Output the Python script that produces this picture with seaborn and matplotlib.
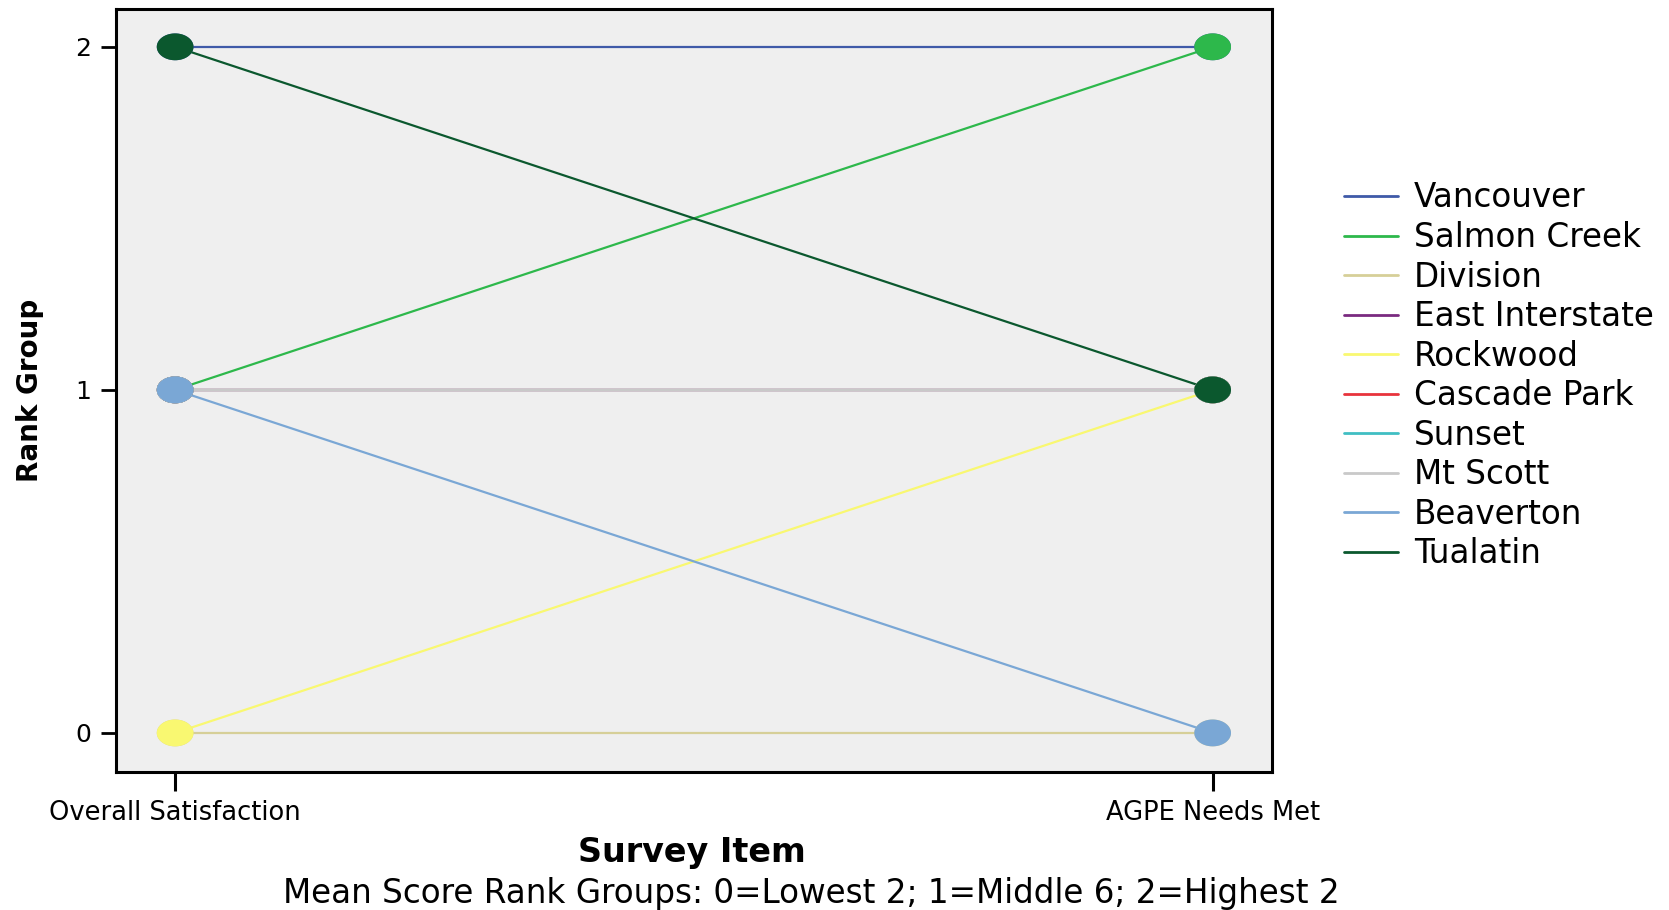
import numpy as np
import pandas as pd
import matplotlib
matplotlib.use("Agg")
import matplotlib.pyplot as plt
from matplotlib.path import Path
from matplotlib.markers import MarkerStyle
from matplotlib.lines import Line2D
import seaborn as sns

# ---- data ----
items = ["Overall Satisfaction", "AGPE Needs Met"]
sites = ["Vancouver", "Salmon Creek", "Division", "East Interstate", "Rockwood",
         "Cascade Park", "Sunset", "Mt Scott", "Beaverton", "Tualatin"]
overall_rank = [2, 1, 0, 1, 0, 1, 1, 1, 1, 2]
agpe_rank = [2, 2, 0, 1, 1, 1, 1, 1, 0, 1]
colors = ["#3f5aa8", "#2db84b", "#d6cf98", "#7a2a80", "#f9f871",
          "#e8333c", "#40bec3", "#c9c9c9", "#7aa7d5", "#0b582e"]
y_ticks = [0, 1, 2]

rows = []
for s, a, b in zip(sites, overall_rank, agpe_rank):
    rows.append({"site": s, "item": 0, "rank": a})
    rows.append({"site": s, "item": 1, "rank": b})
df = pd.DataFrame(rows)
palette = dict(zip(sites, colors))

sns.set_theme(style="white")
plt.rcParams["font.family"] = ["DejaVu Sans"]
plt.rcParams["text.color"] = "black"
plt.rcParams["axes.labelcolor"] = "black"
plt.rcParams["xtick.color"] = "black"
plt.rcParams["ytick.color"] = "black"

fig = plt.figure(figsize=(16.69, 9.10), dpi=100)
ax = fig.add_axes([0.0695, 0.1516, 0.6925, 0.8384])
ax.set_facecolor("#efefef")

sns.lineplot(data=df, x="item", y="rank", hue="site", hue_order=sites,
             palette=palette, linewidth=1.6, legend=False, ax=ax,
             estimator=None, sort=False)

theta = np.linspace(0, 2 * np.pi, 60)
verts = np.column_stack([np.cos(theta), 0.73 * np.sin(theta)])
ellipse = MarkerStyle(Path(verts, closed=True))
order = {s: i for i, s in enumerate(sites)}
df_pts = df.sort_values("site", key=lambda c: c.map(order), kind="stable")
sns.scatterplot(data=df_pts, x="item", y="rank", hue="site", hue_order=sites,
                palette=palette, marker=ellipse, s=700, linewidth=0,
                legend=False, ax=ax, zorder=3)

ax.set_xlim(-0.057, 1.057)
ax.set_ylim(-0.114, 2.11)
ax.set_xticks([0, 1])
ax.set_xticklabels(items, fontsize=18.5)
ax.set_yticks(y_ticks)
ax.set_yticklabels([str(t) for t in y_ticks], fontsize=18)
ax.tick_params(axis="x", direction="out", length=14, width=2.2, color="black",
               pad=6, bottom=True)
ax.tick_params(axis="y", direction="out", length=11, width=2, color="black",
               pad=7, left=True)
for sp in ax.spines.values():
    sp.set_visible(True)
    sp.set_color("black")
    sp.set_linewidth(2.2)

ax.set_xlabel("")
ax.set_ylabel("Rank Group", fontsize=20, fontweight="bold", labelpad=22)
fig.text(0.4146, 0.063, "Survey Item", ha="center", va="center",
         fontsize=24, fontweight="bold")
fig.text(0.486, 0.0176, "Mean Score Rank Groups: 0=Lowest 2; 1=Middle 6; 2=Highest 2",
         ha="center", va="center", fontsize=23.5)

handles = [Line2D([0], [0], color=c, linewidth=2) for c in colors]
fig.legend(handles, sites, loc="center left", bbox_to_anchor=(0.8055, 0.587),
           frameon=False, fontsize=23.5, handlelength=1.65, handletextpad=0.48,
           labelspacing=0.20, borderpad=0, borderaxespad=0)

fig.savefig("out.png", dpi=100)
